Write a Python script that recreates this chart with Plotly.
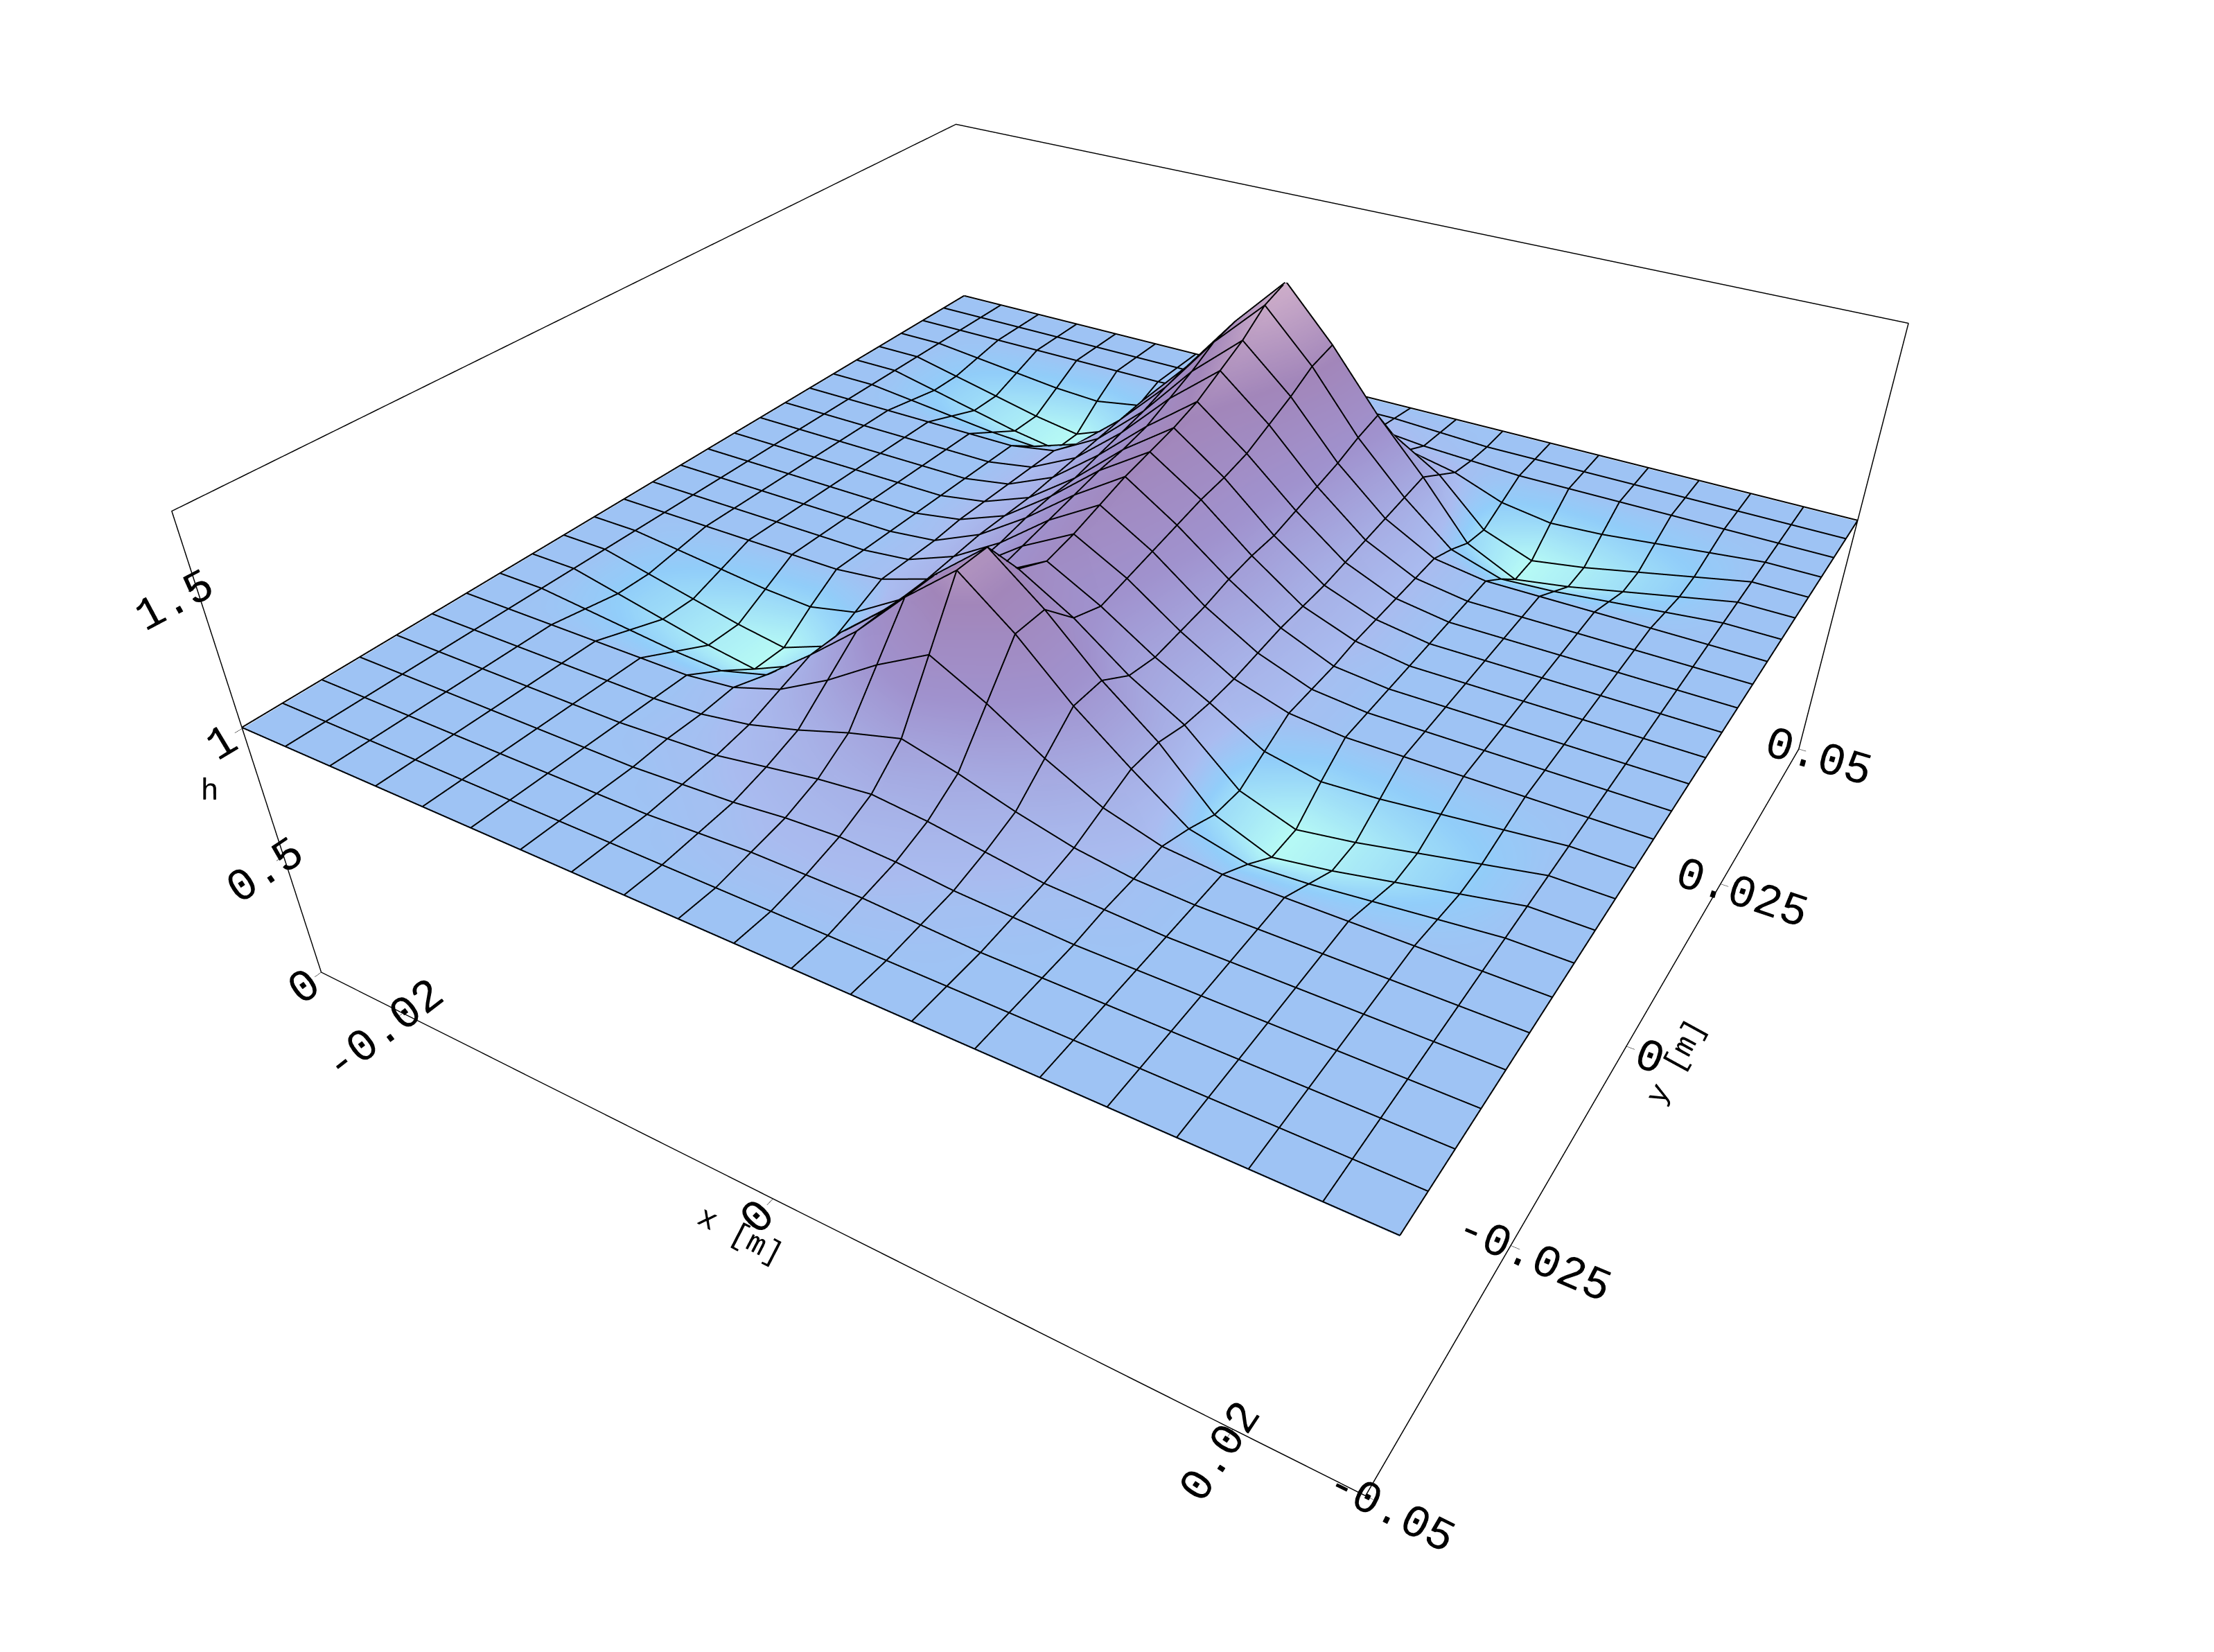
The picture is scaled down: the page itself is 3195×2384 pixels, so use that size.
import plotly.graph_objects as go

x_vals = [-0.025 + 0.0025 * i for i in range(21)]
y_vals = [-0.05 + 0.004 * j for j in range(26)]

h_rows = [
 [1,1,1,1,1,1,1,1,1,1,1,1,1,1,1,1,1,1,1,1,1],
 [1,1,1,1,1,1,1,1,1,1,1,1,1,1,1,1,1,1,1,1,1],
 [1,1,1,1,1,1,1,1,1.01,1.02,1.02,1.02,1.01,1,1,1,1,1,1,1,1],
 [1,1,1,1,1,1,1,1.01,1.02,1.04,1.05,1.04,1.02,1.01,1,1,1,1,1,1,1],
 [1,1,1,1,1,1,1.01,1.02,1.05,1.08,1.1,1.08,1.05,1.02,1.01,1,1,1,1,1,1],
 [1,1,1,1,1,1,1.01,1.04,1.09,1.15,1.2,1.15,1.09,1.04,1.01,1,1,1,1,1,1],
 [1,1,1,1,1,1,1.02,1.08,1.18,1.3,1.4,1.3,1.18,1.08,1.02,1,1,1,1,1,1],
 [1,1,0.98,0.96,0.94,0.93,0.98,1.12,1.27,1.45,1.6,1.45,1.27,1.12,0.98,0.93,0.94,0.96,0.98,1,1],
 [1,1,0.96,0.92,0.88,0.85,0.93,1.12,1.27,1.45,1.6,1.45,1.27,1.12,0.93,0.85,0.88,0.92,0.96,1,1],
 [1,1,0.96,0.92,0.88,0.85,0.92,1.09,1.2,1.34,1.45,1.34,1.2,1.09,0.92,0.85,0.88,0.92,0.96,1,1],
 [1,1,0.98,0.96,0.94,0.93,0.97,1.08,1.18,1.3,1.4,1.3,1.18,1.08,0.97,0.93,0.94,0.96,0.98,1,1],
 [1,1,1,1,1,1,1.02,1.08,1.19,1.32,1.42,1.32,1.19,1.08,1.02,1,1,1,1,1,1],
 [1,1,1,1,1,1,1.02,1.09,1.2,1.34,1.45,1.34,1.2,1.09,1.02,1,1,1,1,1,1],
 [1,1,1,1,1,1,1.02,1.1,1.22,1.36,1.48,1.36,1.22,1.1,1.02,1,1,1,1,1,1],
 [1,1,1,1,1,1,1.03,1.1,1.23,1.38,1.5,1.38,1.23,1.1,1.03,1,1,1,1,1,1],
 [1,1,1,1,1,1,1.03,1.1,1.23,1.39,1.52,1.39,1.23,1.1,1.03,1,1,1,1,1,1],
 [1,1,1,1,1,1,1.03,1.11,1.25,1.41,1.55,1.41,1.25,1.11,1.03,1,1,1,1,1,1],
 [1,1,1,1,1,1,1.03,1.12,1.27,1.45,1.6,1.45,1.27,1.12,1.03,1,1,1,1,1,1],
 [1,1,1,1,1,1,1.03,1.13,1.29,1.49,1.65,1.49,1.29,1.13,1.03,1,1,1,1,1,1],
 [1,1,0.98,0.96,0.94,0.93,0.99,1.14,1.32,1.54,1.72,1.54,1.32,1.14,0.99,0.93,0.94,0.96,0.98,1,1],
 [1,1,0.96,0.92,0.88,0.85,0.94,1.15,1.34,1.56,1.75,1.56,1.34,1.15,0.94,0.85,0.88,0.92,0.96,1,1],
 [1,1,0.96,0.92,0.88,0.85,0.92,1.09,1.2,1.34,1.45,1.34,1.2,1.09,0.92,0.85,0.88,0.92,0.96,1,1],
 [1,1,0.98,0.96,0.94,0.93,0.96,1.03,1.07,1.11,1.15,1.11,1.07,1.03,0.96,0.93,0.94,0.96,0.98,1,1],
 [1,1,1,1,1,1,1,1.01,1.02,1.04,1.05,1.04,1.02,1.01,1,1,1,1,1,1,1],
 [1,1,1,1,1,1,1,1,1.01,1.02,1.02,1.02,1.01,1,1,1,1,1,1,1,1],
 [1,1,1,1,1,1,1,1,1,1,1,1,1,1,1,1,1,1,1,1,1],
]

x_ticks = [-0.02, 0, 0.02]
x_ticktext = ["-0.02", "0", "0.02"]
y_ticks = [-0.05, -0.025, 0, 0.025, 0.05]
y_ticktext = ["-0.05", "-0.025", "0", "0.025", "0.05"]
z_ticks = [0, 0.5, 1, 1.5]
z_ticktext = ["0", "0.5", "1", "1.5"]

xr = [-0.025, 0.025]
yr = [-0.05, 0.05]
zr = [0, 1.75]

colorscale = [
    [0.0, "#b0f4f0"],
    [0.12, "#8cc8f4"],
    [0.2, "#a4b6ea"],
    [0.5, "#9a8cc8"],
    [0.75, "#9c80b4"],
    [1.0, "#c8a8c4"],
]

fig = go.Figure()
fig.add_trace(go.Surface(
    x=x_vals, y=y_vals, z=h_rows,
    colorscale=colorscale, cmin=0.85, cmax=1.75, showscale=False,
    lighting=dict(ambient=0.8, diffuse=0.45, specular=0.05, roughness=0.9, fresnel=0.0),
    lightposition=dict(x=-100, y=-200, z=300),
    hoverinfo="skip",
))

mx, my, mz = [], [], []
for j, yv in enumerate(y_vals):
    for i, xv in enumerate(x_vals):
        mx.append(xv); my.append(yv); mz.append(h_rows[j][i] + 0.004)
    mx.append(None); my.append(None); mz.append(None)
for i, xv in enumerate(x_vals):
    for j, yv in enumerate(y_vals):
        mx.append(xv); my.append(yv); mz.append(h_rows[j][i] + 0.004)
    mx.append(None); my.append(None); mz.append(None)
fig.add_trace(go.Scatter3d(x=mx, y=my, z=mz, mode="lines",
                           line=dict(color="black", width=4), hoverinfo="skip", showlegend=False))

font = dict(family="Liberation Mono, DejaVu Sans Mono, monospace", size=28, color="black")
tfont = dict(family="Liberation Mono, DejaVu Sans Mono, monospace", size=44, color="black")
axis_common = dict(showgrid=False, zeroline=False, showbackground=False, showspikes=False,
                   ticks="outside", tickcolor="black", ticklen=10, tickfont=font,
                   showline=True, linecolor="black", linewidth=3, mirror=True)
fig.update_layout(
    width=3195, height=2384,
    paper_bgcolor="white",
    margin=dict(l=0, r=0, t=0, b=0),
    showlegend=False,
    scene=dict(
        xaxis=dict(axis_common, range=xr, tickvals=x_ticks, ticktext=x_ticktext, title=dict(text="x [m]", font=tfont)),
        yaxis=dict(axis_common, range=yr, tickvals=y_ticks, ticktext=y_ticktext, title=dict(text="y [m]", font=tfont)),
        zaxis=dict(axis_common, range=zr, tickvals=z_ticks, ticktext=z_ticktext, title=dict(text="h", font=tfont)),
        aspectmode="manual", aspectratio=dict(x=1, y=1, z=0.45),
        camera=dict(eye=dict(x=0.76, y=-1.25, z=0.93), center=dict(x=0, y=0, z=-0.2),
                    projection=dict(type="perspective")),
    ),
)

fig.write_html("out.html")
